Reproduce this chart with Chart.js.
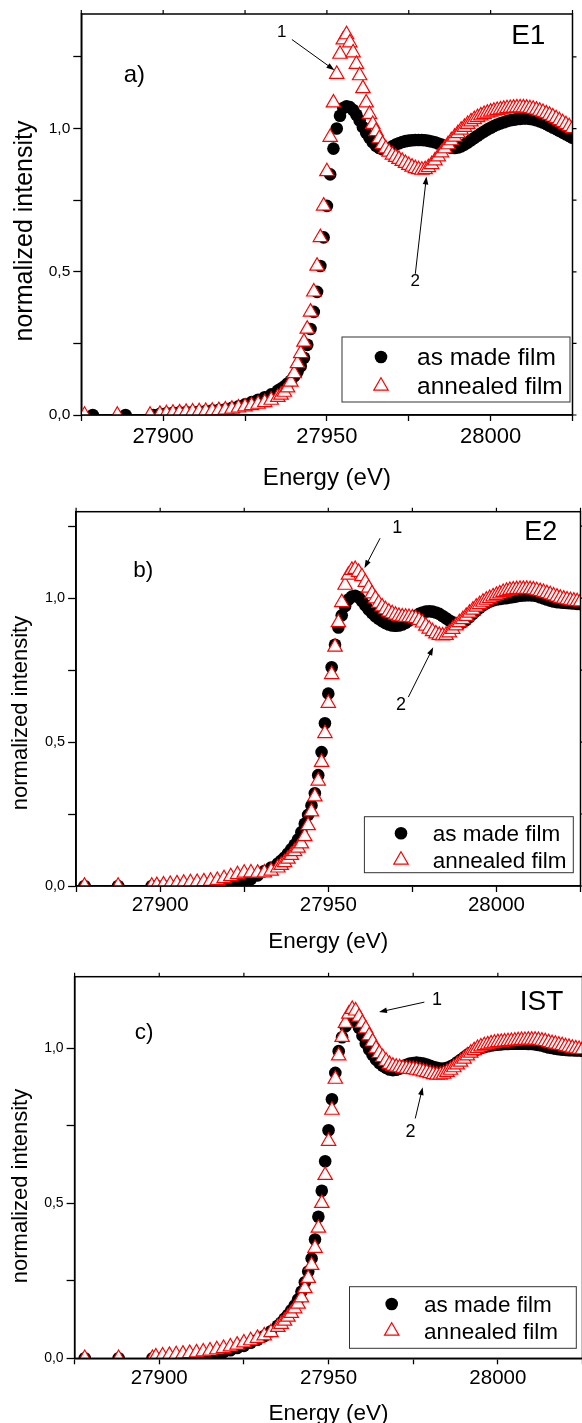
<!DOCTYPE html>
<html>
<head>
<meta charset="utf-8">
<script src="https://cdn.jsdelivr.net/npm/chart.js@4.4.1/dist/chart.umd.min.js"></script>
<style>
  html, body { margin: 0; padding: 0; background: #fff; width: 582px; height: 1423px; overflow: hidden; position: relative; }
  canvas { position: absolute; left: 0; }
</style>
</head>
<body>
<canvas id="chartA" width="582" height="493" style="top:0px"></canvas>
<canvas id="chartB" width="590" height="458" style="top:497px"></canvas>
<canvas id="chartC" width="592" height="467" style="top:960px"></canvas>
<script>
// energy grid shared by all series (eV)
var energy = [
  27899, 27901, 27903, 27905, 27907, 27909, 27911, 27913, 27915, 27917,
  27919, 27921, 27923, 27925, 27927, 27929, 27931, 27933, 27935,
  27936, 27937, 27938, 27939, 27940, 27941, 27942, 27943, 27944, 27945,
  27946, 27947, 27948, 27949, 27950, 27951, 27952, 27953, 27954, 27955,
  27956, 27957, 27958, 27959, 27960, 27961, 27962, 27963, 27964, 27965,
  27966, 27967, 27968, 27969, 27970, 27971, 27972, 27973, 27974, 27975,
  27976, 27977, 27978, 27979, 27980, 27981, 27982, 27983, 27984, 27985,
  27986, 27987, 27988, 27989, 27990, 27991, 27992, 27993, 27994, 27995,
  27996, 27997, 27998, 27999, 28000, 28001, 28002, 28003, 28004, 28005,
  28006, 28007, 28008, 28009, 28010, 28011, 28012, 28013, 28014, 28015,
  28016, 28017, 28018, 28019, 28020, 28021, 28022, 28023, 28024, 28025
];

// the few sparse points before the scan gets dense
var leadMadeA = [27878.5, 27888.5, 27897];
var leadAnnealedA = [27876, 27886, 27896];
var leadB = [27877.5, 27887.5, 27897.5];
var leadC = [27878, 27888, 27898];

// a) E1
var madeA = [0, 0, 0,
  0.004, 0.006, 0.008, 0.009, 0.01, 0.011, 0.012, 0.014, 0.016, 0.018,
  0.02, 0.025, 0.03, 0.037, 0.045, 0.053, 0.062, 0.072, 0.085,
  0.092, 0.1, 0.11, 0.12, 0.135, 0.15, 0.17, 0.2, 0.245, 0.3,
  0.36, 0.43, 0.52, 0.62, 0.73, 0.84, 0.93, 1.0, 1.045, 1.072,
  1.078, 1.075, 1.065, 1.048, 1.028, 1.005, 0.985, 0.968, 0.952, 0.94,
  0.932, 0.928, 0.928, 0.932, 0.938, 0.944, 0.949, 0.953, 0.956, 0.958,
  0.959, 0.96, 0.96, 0.96, 0.959, 0.957, 0.955, 0.952, 0.948, 0.944,
  0.94, 0.936, 0.933, 0.932, 0.934, 0.938, 0.944, 0.951, 0.959, 0.967,
  0.975, 0.983, 0.99, 0.997, 1.003, 1.009, 1.014, 1.018, 1.022, 1.026,
  1.029, 1.031, 1.033, 1.034, 1.035, 1.035, 1.034, 1.032, 1.029, 1.025,
  1.021, 1.016, 1.01, 1.004, 0.998, 0.992, 0.986, 0.98, 0.974, 0.968
];
var annealedA = [0, 0, 0,
  0.003, 0.005, 0.007, 0.008, 0.01, 0.011, 0.012, 0.013, 0.014, 0.016,
  0.018, 0.021, 0.025, 0.029, 0.033, 0.038, 0.044, 0.052, 0.062,
  0.07, 0.08, 0.095, 0.115, 0.145, 0.18, 0.215, 0.255, 0.3, 0.36,
  0.43, 0.52, 0.62, 0.73, 0.85, 0.97, 1.09, 1.19, 1.26, 1.31,
  1.328, 1.3, 1.265, 1.225, 1.185, 1.14, 1.09, 1.05, 1.015, 0.99,
  0.965, 0.945, 0.93, 0.918, 0.908, 0.9, 0.893, 0.886, 0.879, 0.872,
  0.866, 0.861, 0.857, 0.855, 0.857, 0.864, 0.875, 0.888, 0.902, 0.916,
  0.93, 0.944, 0.958, 0.971, 0.983, 0.995, 1.005, 1.015, 1.024, 1.032,
  1.039, 1.045, 1.05, 1.054, 1.058, 1.061, 1.064, 1.066, 1.068, 1.07,
  1.071, 1.072, 1.073, 1.073, 1.073, 1.072, 1.07, 1.068, 1.065, 1.061,
  1.057, 1.052, 1.047, 1.041, 1.035, 1.028, 1.021, 1.014, 1.007, 1.0
];

// b) E2
var madeB = [0, 0, 0,
  0.0, 0.0, 0.0, 0.001, 0.001, 0.002, 0.002, 0.003, 0.003, 0.004,
  0.005, 0.007, 0.01, 0.015, 0.024, 0.037, 0.052, 0.064, 0.078,
  0.088, 0.099, 0.113, 0.128, 0.143, 0.162, 0.187, 0.216, 0.247, 0.28,
  0.322, 0.385, 0.465, 0.565, 0.668, 0.76, 0.838, 0.898, 0.94, 0.972,
  0.995, 1.005, 1.008, 1.003, 0.99, 0.975, 0.96, 0.948, 0.937, 0.928,
  0.92, 0.913, 0.908, 0.905, 0.904, 0.905, 0.908, 0.914, 0.922, 0.93,
  0.938, 0.945, 0.95, 0.953, 0.954, 0.953, 0.95, 0.945, 0.938, 0.93,
  0.922, 0.916, 0.912, 0.911, 0.916, 0.924, 0.934, 0.945, 0.956, 0.966,
  0.975, 0.982, 0.988, 0.992, 0.995, 0.997, 0.999, 1.0, 1.002, 1.004,
  1.006, 1.008, 1.009, 1.01, 1.01, 1.009, 1.007, 1.003, 0.999, 0.995,
  0.991, 0.988, 0.986, 0.985, 0.984, 0.983, 0.982, 0.981, 0.98, 0.979
];
var annealedB = [0, 0, 0,
  0.002, 0.004, 0.006, 0.008, 0.01, 0.012, 0.013, 0.015, 0.017, 0.02,
  0.026, 0.033, 0.04, 0.045, 0.046, 0.045, 0.046, 0.052, 0.063,
  0.072, 0.082, 0.094, 0.107, 0.12, 0.132, 0.147, 0.172, 0.21, 0.258,
  0.31, 0.365, 0.43, 0.53, 0.635, 0.735, 0.83, 0.915, 0.985, 1.045,
  1.08, 1.097, 1.1, 1.09, 1.075, 1.055, 1.035, 1.015, 0.998, 0.982,
  0.97, 0.96, 0.952, 0.946, 0.941, 0.937, 0.935, 0.934, 0.933, 0.932,
  0.929, 0.923, 0.914, 0.903, 0.893, 0.884, 0.876, 0.871, 0.869, 0.871,
  0.88, 0.892, 0.904, 0.915, 0.926, 0.937, 0.948, 0.959, 0.969, 0.978,
  0.986, 0.993, 0.999, 1.005, 1.01, 1.015, 1.02, 1.024, 1.027, 1.029,
  1.03, 1.031, 1.031, 1.031, 1.03, 1.029, 1.026, 1.023, 1.02, 1.016,
  1.012, 1.008, 1.004, 1.0, 0.997, 0.994, 0.992, 0.99, 0.988, 0.987
];

// c) IST
var madeC = [0, 0, 0,
  0.0, 0.001, 0.002, 0.003, 0.004, 0.005, 0.006, 0.008, 0.01, 0.015,
  0.02, 0.026, 0.033, 0.04, 0.05, 0.06, 0.072, 0.087, 0.105,
  0.115, 0.128, 0.14, 0.155, 0.17, 0.19, 0.215, 0.245, 0.28, 0.322,
  0.383, 0.456, 0.54, 0.635, 0.735, 0.835, 0.92, 0.99, 1.035, 1.07,
  1.09, 1.095, 1.085, 1.065, 1.04, 1.015, 0.995, 0.978, 0.963, 0.952,
  0.943, 0.936, 0.931, 0.929, 0.93, 0.934, 0.94, 0.946, 0.95, 0.952,
  0.953, 0.952, 0.95, 0.947, 0.943, 0.939, 0.936, 0.934, 0.934, 0.936,
  0.94, 0.946, 0.954, 0.962, 0.97, 0.978, 0.985, 0.991, 0.996, 1.0,
  1.003, 1.006, 1.008, 1.01, 1.011, 1.012, 1.013, 1.013, 1.014, 1.014,
  1.014, 1.014, 1.014, 1.013, 1.013, 1.012, 1.01, 1.008, 1.005, 1.002,
  1.0, 0.998, 0.996, 0.995, 0.994, 0.993, 0.993, 0.992, 0.992, 0.991
];
var annealedC = [0, 0, 0,
  0.005, 0.008, 0.01, 0.012, 0.014, 0.016, 0.018, 0.021, 0.024, 0.028,
  0.032, 0.037, 0.043, 0.05, 0.057, 0.065, 0.073, 0.083, 0.1,
  0.11, 0.12, 0.133, 0.145, 0.16, 0.175, 0.195, 0.225, 0.258, 0.3,
  0.355, 0.42, 0.5, 0.59, 0.7, 0.8, 0.9, 0.975, 1.035, 1.08,
  1.11, 1.125, 1.12, 1.1, 1.08, 1.062, 1.04, 1.02, 0.998, 0.983,
  0.97, 0.958, 0.948, 0.942, 0.939, 0.937, 0.935, 0.933, 0.932, 0.931,
  0.929, 0.927, 0.924, 0.921, 0.918, 0.915, 0.913, 0.913, 0.916, 0.922,
  0.929, 0.937, 0.946, 0.955, 0.965, 0.975, 0.984, 0.992, 0.999, 1.004,
  1.008, 1.011, 1.014, 1.016, 1.018, 1.019, 1.02, 1.021, 1.022, 1.023,
  1.024, 1.025, 1.025, 1.026, 1.026, 1.026, 1.025, 1.023, 1.021, 1.018,
  1.015, 1.013, 1.01, 1.008, 1.005, 1.003, 1.0, 0.998, 0.996, 0.995
];

// ticks
var xTicks = [27875, 27900, 27925, 27950, 27975, 28000, 28025];
var xMajor = [27900, 27950, 28000];
var yTicks = [0, 0.25, 0.5, 0.75, 1.0, 1.25];
var yMajor = [0, 0.5, 1.0];
var yMajorText = ['0,0', '0,5', '1,0'];

var FAMILY = "'Liberation Sans', Arial, Helvetica, sans-serif";
function font(size) { return size + 'px ' + FAMILY; }

// layout of each panel (pixel sizes, positions of the extra text)
var panels = [
  {
    id: 'chartA', made: madeA, annealed: annealedA, leadMade: leadMadeA, leadAnnealed: leadAnnealedA,
    yMax: 1.4, left: 81.3, top: 14, right: 8.7, axisH: 78, tickPad: 3,
    fs: { tick: 22, ytick: 15.5, title: 24, ytitle: 25, legend: 24.5, tag: 24, name: 28, num: 17 },
    yTitle: [25, 231],
    legend: { box: [342, 337, 228, 65], mark: 381, rows: [357, 386], text: 417 },
    tag: ['a)', 27891.2, 1.187], name: ['E1', 28011.5, 1.322],
    notes: [
      { text: '1', at: [27936.2, 1.337], from: [27939.3, 1.311], to: [27952.3, 1.204] },
      { text: '2', at: [27977.0, 0.467], from: [27977.0, 0.493], to: [27980.4, 0.833] }
    ]
  },
  {
    id: 'chartB', made: madeB, annealed: annealedB, leadMade: leadB, leadAnnealed: leadB,
    yMax: 1.3, left: 76.1, top: 14.7, right: 7.6, axisH: 69, tickPad: 1,
    fs: { tick: 20.5, ytick: 14.5, title: 22.5, ytitle: 22, legend: 22.5, tag: 22.5, name: 27, num: 18 },
    yTitle: [21, 216],
    legend: { box: [364.4, 319.7, 208.9, 56], mark: 401, rows: [336.3, 363], text: 432.7 },
    tag: ['b)', 27895.0, 1.095], name: ['E2', 28013.2, 1.228],
    notes: [
      { text: '1', at: [27970.5, 1.245], from: [27965.4, 1.208], to: [27960.75, 1.104] },
      { text: '2', at: [27971.6, 0.627], from: [27973.8, 0.656], to: [27981.2, 0.829] }
    ]
  },
  {
    id: 'chartC', made: madeC, annealed: annealedC, leadMade: leadC, leadAnnealed: leadC,
    yMax: 1.23, left: 74.6, top: 16.7, right: 8, axisH: 68.7, tickPad: 2,
    fs: { tick: 20.5, ytick: 14, title: 22.5, ytitle: 22, legend: 22.5, tag: 22.5, name: 28, num: 18 },
    yTitle: [21, 226],
    legend: { box: [349.5, 326.7, 226.8, 61.6], mark: 391.7, rows: [344, 371], text: 424.1 },
    tag: ['c)', 27895.5, 1.049], name: ['IST', 28012.9, 1.148],
    notes: [
      { text: '1', at: [27982.0, 1.154], from: [27978.3, 1.148], to: [27964.9, 1.116] },
      { text: '2', at: [27974.2, 0.730], from: [27975.6, 0.773], to: [27977.8, 0.874] }
    ]
  }
];

function points(lead, vals) {
  return lead.concat(energy).map(function (x, i) { return { x: x, y: vals[i] }; });
}

function arrow(ctx, x0, y0, x1, y1) {
  var ang = Math.atan2(y1 - y0, x1 - x0), L = 8, W = 2.8;
  var c = Math.cos(ang), s = Math.sin(ang);
  ctx.beginPath();
  ctx.moveTo(x0, y0);
  ctx.lineTo(x1 - L * 0.7 * c, y1 - L * 0.7 * s);
  ctx.lineWidth = 1;
  ctx.stroke();
  ctx.beginPath();
  ctx.moveTo(x1, y1);
  ctx.lineTo(x1 - L * c + W * s, y1 - L * s - W * c);
  ctx.lineTo(x1 - L * c - W * s, y1 - L * s + W * c);
  ctx.closePath();
  ctx.fill();
}

function circleMark(ctx, x, y) {
  ctx.beginPath();
  ctx.arc(x, y, 6.3, 0, Math.PI * 2);
  ctx.fillStyle = '#000';
  ctx.fill();
}

function triangleMark(ctx, x, y) {
  var r = 8.3, a = 0;
  ctx.beginPath();
  for (var k = 0; k < 3; k++) {
    var px = x + Math.sin(a) * r, py = y - Math.cos(a) * r;
    if (k === 0) ctx.moveTo(px, py); else ctx.lineTo(px, py);
    a += Math.PI * 2 / 3;
  }
  ctx.closePath();
  ctx.fillStyle = '#fff';
  ctx.fill();
  ctx.strokeStyle = '#ff0000';
  ctx.lineWidth = 1.2;
  ctx.stroke();
}

// frame, mirror ticks, y title, labels, arrows and legend box
var decor = {
  id: 'decor',
  afterDraw: function (chart) {
    var p = panels.find(function (q) { return q.id === chart.canvas.id; });
    var ctx = chart.ctx, a = chart.chartArea;
    var sx = chart.scales.x, sy = chart.scales.y;
    var X = function (v) { return sx.getPixelForValue(v); };
    var Y = function (v) { return sy.getPixelForValue(v); };

    ctx.save();
    ctx.strokeStyle = '#000';
    ctx.fillStyle = '#000';
    ctx.lineWidth = 1.5;
    ctx.strokeRect(a.left, a.top, a.right - a.left, a.bottom - a.top);

    ctx.lineWidth = 1.2;
    ctx.beginPath();
    sx.ticks.forEach(function (t) { ctx.moveTo(X(t.value), a.top); ctx.lineTo(X(t.value), a.top - 4); });
    sy.ticks.forEach(function (t) { ctx.moveTo(a.right, Y(t.value)); ctx.lineTo(a.right + 4, Y(t.value)); });
    ctx.stroke();

    ctx.save();
    ctx.translate(p.yTitle[0], p.yTitle[1]);
    ctx.rotate(-Math.PI / 2);
    ctx.font = font(p.fs.ytitle);
    ctx.textAlign = 'center';
    ctx.textBaseline = 'middle';
    ctx.fillText('normalized intensity', 0, 0);
    ctx.restore();

    ctx.textAlign = 'center';
    ctx.textBaseline = 'middle';
    ctx.font = font(p.fs.tag);
    ctx.fillText(p.tag[0], X(p.tag[1]), Y(p.tag[2]));
    ctx.font = font(p.fs.name);
    ctx.fillText(p.name[0], X(p.name[1]), Y(p.name[2]));

    ctx.font = font(p.fs.num);
    p.notes.forEach(function (n) {
      ctx.fillText(n.text, X(n.at[0]), Y(n.at[1]));
      arrow(ctx, X(n.from[0]), Y(n.from[1]), X(n.to[0]), Y(n.to[1]));
    });

    var L = p.legend;
    ctx.strokeStyle = '#333';
    ctx.lineWidth = 1;
    ctx.fillStyle = '#fff';
    ctx.fillRect(L.box[0], L.box[1], L.box[2], L.box[3]);
    ctx.strokeRect(L.box[0], L.box[1], L.box[2], L.box[3]);
    circleMark(ctx, L.mark, L.rows[0]);
    triangleMark(ctx, L.mark, L.rows[1]);
    ctx.fillStyle = '#000';
    ctx.font = font(p.fs.legend);
    ctx.textAlign = 'left';
    ctx.textBaseline = 'middle';
    ctx.fillText('as made film', L.text, L.rows[0] + 1.5);
    ctx.fillText('annealed film', L.text, L.rows[1] + 1.5);
    ctx.restore();
  }
};

panels.forEach(function (p) {
  var ctx = document.getElementById(p.id).getContext('2d');
  new Chart(ctx, {
    type: 'scatter',
    data: {
      datasets: [
        {
          label: 'as made film',
          data: points(p.leadMade, p.made),
          pointStyle: 'circle',
          pointRadius: 6.3,
          backgroundColor: '#000',
          borderColor: '#000',
          borderWidth: 0,
          order: 2,
          clip: 0
        },
        {
          label: 'annealed film',
          data: points(p.leadAnnealed, p.annealed),
          pointStyle: 'triangle',
          pointRadius: 8.3,
          backgroundColor: '#fff',
          borderColor: '#ff0000',
          borderWidth: 1.2,
          order: 1,
          clip: 0
        }
      ]
    },
    options: {
      responsive: false,
      animation: false,
      events: [],
      layout: { padding: { top: p.top, right: p.right, left: 0, bottom: 0 } },
      plugins: {
        legend: { display: false },
        tooltip: { enabled: false }
      },
      scales: {
        x: {
          type: 'linear',
          min: 27875,
          max: 28025,
          afterBuildTicks: function (s) { s.ticks = xTicks.map(function (v) { return { value: v }; }); },
          afterFit: function (s) { s.height = p.axisH; },
          ticks: {
            autoSkip: false,
            maxRotation: 0,
            padding: p.tickPad,
            color: '#000',
            font: { family: FAMILY, size: p.fs.tick },
            callback: function (v) { return xMajor.indexOf(v) >= 0 ? String(v) : ''; }
          },
          grid: { drawOnChartArea: false, tickLength: 6, color: '#000', tickWidth: 1.3 },
          border: { color: '#000', width: 1.5 },
          title: {
            display: true,
            text: 'Energy (eV)',
            color: '#000',
            font: { family: FAMILY, size: p.fs.title, lineHeight: 1.2 },
            padding: { top: 0, bottom: 0 }
          }
        },
        y: {
          min: 0,
          max: p.yMax,
          afterBuildTicks: function (s) {
            s.ticks = yTicks.filter(function (v) { return v <= p.yMax; }).map(function (v) { return { value: v }; });
          },
          afterFit: function (s) { s.width = p.left; },
          ticks: {
            autoSkip: false,
            padding: 3,
            color: '#000',
            font: { family: FAMILY, size: p.fs.ytick },
            callback: function (v) {
              var i = yMajor.findIndex(function (m) { return Math.abs(m - v) < 1e-6; });
              return i < 0 ? '' : yMajorText[i];
            }
          },
          grid: { drawOnChartArea: false, tickLength: 8, color: '#000', tickWidth: 1.3 },
          border: { color: '#000', width: 1.5 }
        }
      }
    },
    plugins: [decor]
  });
});
</script>
</body>
</html>
